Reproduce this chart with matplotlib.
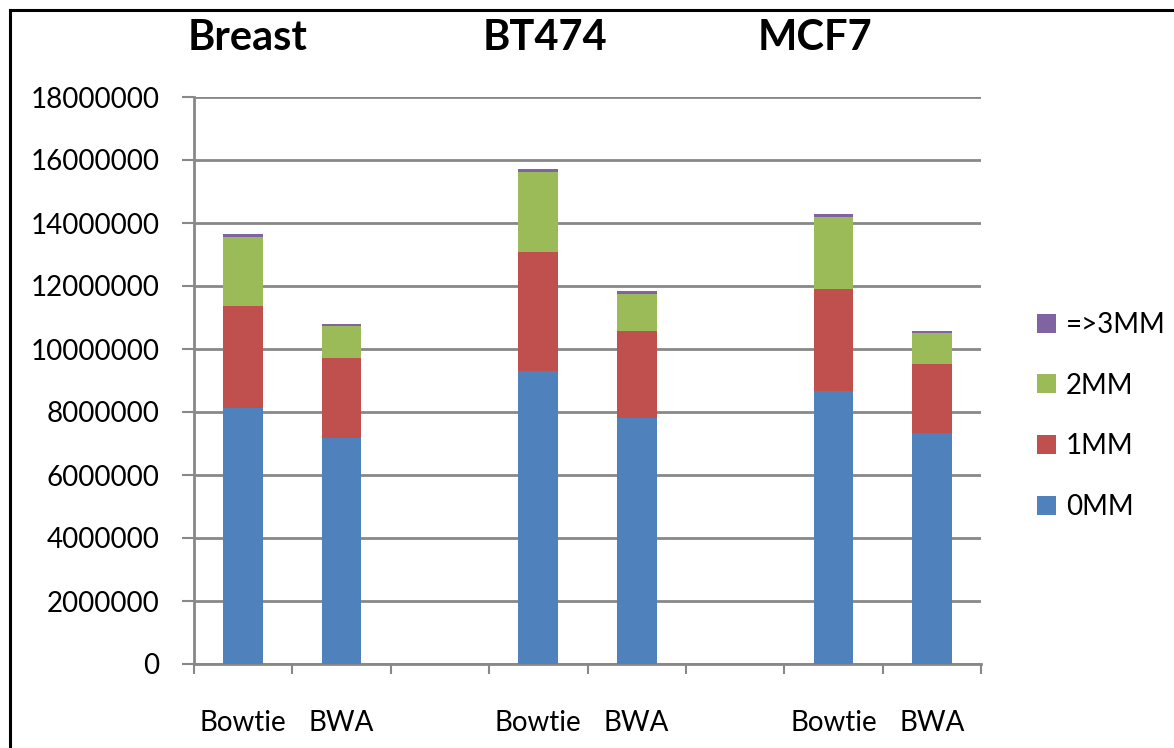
import matplotlib.pyplot as plt
from matplotlib.lines import Line2D
from matplotlib.patches import Patch
from matplotlib.ticker import FuncFormatter
import numpy as np

plt.rcParams['font.family'] = ['Lato', 'DejaVu Sans']

# read counts per aligner, stacked by number of mismatches
samples = ["Breast", "BT474", "MCF7"]
aligners = ["Bowtie", "BWA"]
mm0 = [8140000, 7180000, 9300000, 7820000, 8680000, 7330000]
mm1 = [3220000, 2520000, 3790000, 2750000, 3230000, 2200000]
mm2 = [2210000, 1030000, 2540000, 1190000, 2290000, 980000]
mm3 = [80000, 70000, 70000, 70000, 80000, 60000]
series = [("0MM", mm0, "#4F81BD"), ("1MM", mm1, "#C0504D"),
          ("2MM", mm2, "#9BBB59"), ("=>3MM", mm3, "#8064A2")]

W, H = 1174, 748
fig = plt.figure(figsize=(W / 100, H / 100), dpi=100)
ax = fig.add_axes([194 / W, 84 / H, 787 / W, 567 / H])

# each sample gets two bars followed by an empty slot
pos = np.array([3 * g + a for g in range(len(samples)) for a in range(len(aligners))])
bottom = np.zeros(len(pos))
handles = []
for name, vals, col in series:
    ax.bar(pos, vals, width=0.405, bottom=bottom, color=col, zorder=3)
    bottom += np.array(vals)
    handles.append(Patch(facecolor=col, label=name))

grid_col = "#888888"
ax.set_xlim(-0.5, 7.5)
ax.set_ylim(0, 18000000)
ax.set_yticks(np.arange(0, 18000001, 2000000))
ax.yaxis.set_major_formatter(FuncFormatter(lambda v, p: f"{int(round(v))}"))
ax.yaxis.grid(True, color=grid_col, linewidth=2, zorder=0)
ax.tick_params(axis='y', direction='out', length=9, width=1.5, color=grid_col,
               labelsize=20, pad=16)

ax.set_xticks(pos)
ax.set_xticklabels([aligners[p % 3] for p in pos])
ax.set_xticks(np.arange(-0.5, 8, 1), minor=True)
ax.tick_params(axis='x', which='major', length=0, labelsize=20, pad=33)
ax.tick_params(axis='x', which='minor', direction='out', length=7, width=1.5, color=grid_col)

for s in ["top", "right"]:
    ax.spines[s].set_visible(False)
for s in ["left", "bottom"]:
    ax.spines[s].set_color(grid_col)
    ax.spines[s].set_linewidth(2)

# sample names above their bar pairs
for name, xp in zip(samples, [248, 545, 815]):
    fig.text(xp / W, 1 - 50 / H, name, ha='center', va='baseline',
             fontsize=30, fontweight='bold')

fig.legend(handles=handles[::-1], loc='center left',
           bbox_to_anchor=(1026 / W, 1 - 416 / H), frameon=False, fontsize=20,
           handlelength=0.68, handleheight=0.68, handletextpad=0.35,
           labelspacing=1.25, borderaxespad=0)

# frame edges along top and left
fig.add_artist(Line2D([10 / W, 10 / W], [0, 1 - 10 / H], color='black', linewidth=2.2))
fig.add_artist(Line2D([10 / W, 1], [1 - 10 / H, 1 - 10 / H], color='black', linewidth=2.2))

fig.savefig("out.png", dpi=100)
